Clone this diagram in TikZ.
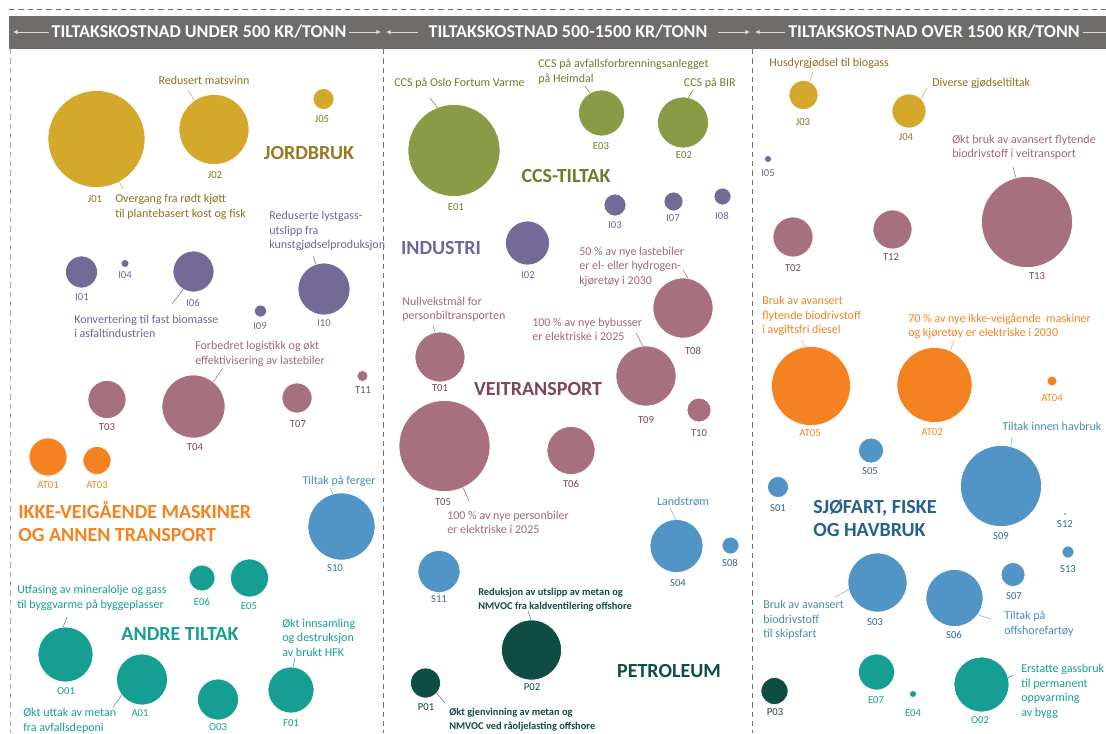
\documentclass[tikz,border=0pt]{standalone}
\usepackage{fontspec}
\setmainfont{Carlito}
\usetikzlibrary{arrows.meta}
\definecolor{hdrgray}{RGB}{110,108,107}
\definecolor{hdrline}{RGB}{218,218,218}
\definecolor{sepgray}{RGB}{112,112,112}
\definecolor{jfill}{RGB}{212,168,42}
\definecolor{jtext}{RGB}{143,111,31}
\definecolor{cfill}{RGB}{138,155,69}
\definecolor{ctext}{RGB}{107,125,44}
\definecolor{ifill}{RGB}{116,106,151}
\definecolor{itext}{RGB}{111,102,154}
\definecolor{tfill}{RGB}{166,112,127}
\definecolor{ttext}{RGB}{161,103,125}
\definecolor{tdark}{RGB}{126,68,90}
\definecolor{ofill}{RGB}{245,130,32}
\definecolor{sfill}{RGB}{81,148,198}
\definecolor{stext}{RGB}{72,138,190}
\definecolor{sdark}{RGB}{35,98,138}
\definecolor{afill}{RGB}{23,158,147}
\definecolor{pfill}{RGB}{14,76,68}

\begin{document}
\begin{tikzpicture}[x=0.75pt,y=0.75pt,yscale=-1,xscale=1,
    bub/.style={circle,draw=white,line width=0.5pt,inner sep=0pt,outer sep=0pt,minimum size=#1*1.5pt},
    idl/.style={font=\fontsize{8}{9.6}\selectfont,inner sep=0.75pt},
    desc/.style={font=\fontsize{9}{10.9}\selectfont,align=left,inner sep=0.75pt},
    pdesc/.style={font=\fontsize{7.8}{10.5}\selectfont\bfseries,align=left,inner sep=0.75pt,text=pfill},
    cat/.style={font=\fontsize{15}{17.5}\selectfont\bfseries,align=left,inner sep=0.75pt},
    hdr/.style={font=\fontsize{13.5}{16}\selectfont\bfseries,text=white,inner xsep=2pt,inner ysep=1pt},
    harr/.style={draw=hdrline,line width=0.6pt,-{Latex[length=3.5pt,width=3.5pt]}},
    sepline/.style={draw=sepgray,line width=0.6pt,dash pattern=on 4pt off 3pt},
    lead/.style={line width=0.4pt}]
\useasboundingbox (0,0) rectangle (1106,733);

% header band
\fill [hdrgray] (9,16) rectangle (1106,49);
\draw [sepline] (9,9) -- (1106,9);
\draw [sepline,draw=sepgray!60] (10,49) -- (10,733);
\draw [sepline] (383,49) -- (383,733);
\draw [sepline] (752,49) -- (752,733);
\node [hdr] (h1) at (199,32) {TILTAKSKOSTNAD UNDER 500 KR/TONN};
\node [hdr,inner xsep=8pt] (h2) at (568,32) {TILTAKSKOSTNAD 500-1500 KR/TONN};
\node [hdr] (h3) at (934,32) {TILTAKSKOSTNAD OVER 1500 KR/TONN};
\coordinate (h1l) at (13,32);
\coordinate (h1r) at (381,32);
\coordinate (h2l) at (386,32);
\coordinate (h2r) at (750,32);
\coordinate (h3l) at (755,32);
\coordinate (h3r) at (1106,32);
\draw [harr] (h1) -- (h1l);
\draw [harr] (h1) -- (h1r);
\draw [harr] (h2) -- (h2l);
\draw [harr] (h2) -- (h2r);
\draw [harr] (h3) -- (h3l);
\draw [draw=hdrline,line width=0.6pt] (h3) -- (h3r);

% Jordbruk
\node [bub=48.5,fill=jfill] (J01) at (96.5,139) {};
\node [bub=35,fill=jfill] (J02) at (214,129.5) {};
\node [bub=10.5,fill=jfill] (J05) at (323.5,99) {};
\node [bub=14.5,fill=jfill] (J03) at (803.5,95) {};
\node [bub=17,fill=jfill] (J04) at (909,111) {};
\node [idl,text=jtext] (J01l) at (95,199) {J01};
\node [idl,text=jtext] (J02l) at (215,175) {J02};
\node [idl,text=jtext] (J05l) at (322,119) {J05};
\node [idl,text=jtext] (J03l) at (803,122) {J03};
\node [idl,text=jtext] (J04l) at (906,137) {J04};
\node [desc,text=jtext] (J02t) at (204,80) {Redusert matsvinn};
\node [desc,text=jtext,anchor=west] (J01t) at (114,207) {Overgang fra rødt kjøtt\\til plantebasert kost og fisk};
\node [desc,text=jtext,anchor=west] (J03t) at (768,63) {Husdyrgjødsel til biogass};
\node [desc,text=jtext,anchor=west] (J04t) at (931,83) {Diverse gjødseltiltak};
\node [cat,text=jtext!85!jfill] (jord) at (309,153) {JORDBRUK};
\coordinate (J02e) at (188,90);
\coordinate (J01e) at (123,189);
\coordinate (J03e) at (813,72);
\coordinate (J04e) at (927,88);
\draw [lead,jfill] (J02.124) -- (J02e);
\draw [lead,jfill] (J01.298) -- (J01e);
\draw [lead,jfill] (J03.65) -- (J03e);
\draw [lead,jfill] (J04.45) -- (J04e);

% CCS
\node [bub=46,fill=cfill] (E01) at (454,150.5) {};
\node [bub=23,fill=cfill] (E03) at (601.5,113) {};
\node [bub=25.5,fill=cfill] (E02) at (683,122.5) {};
\node [idl,text=ctext] (E01l) at (456,207) {E01};
\node [idl,text=ctext] (E03l) at (601,146) {E03};
\node [idl,text=ctext] (E02l) at (684,155) {E02};
\node [desc,text=ctext,anchor=west] (E01t) at (393,83) {CCS på Oslo Fortum Varme};
\node [desc,text=ctext,anchor=west] (E03t) at (537,71.5) {CCS på avfallsforbrenningsanlegget\\på Heimdal};
\node [desc,text=ctext,anchor=east] (E02t) at (737,83) {CCS på BIR};
\node [cat,text=ctext] (ccs) at (566,176) {CCS-TILTAK};
\coordinate (E01e) at (430,98);
\coordinate (E03e) at (585,86);
\coordinate (E02e) at (693,90);
\draw [lead,ctext] (E01.111) -- (E01e);
\draw [lead,ctext] (E03.120) -- (E03e);
\draw [lead,ctext] (E02.78) -- (E02e);

% Industri
\node [bub=16,fill=ifill] (I01) at (81.5,272) {};
\node [bub=4,fill=ifill] (I04) at (125,263.5) {};
\node [bub=20.5,fill=ifill] (I06) at (193.5,271.5) {};
\node [bub=6,fill=ifill] (I09) at (260.5,311) {};
\node [bub=26,fill=ifill] (I10) at (324,289) {};
\node [bub=22,fill=ifill] (I02) at (527.5,243) {};
\node [bub=11,fill=ifill] (I03) at (615,205) {};
\node [bub=9.5,fill=ifill] (I07) at (673.5,201.5) {};
\node [bub=8.5,fill=ifill] (I08) at (722.5,196.5) {};
\node [bub=3.5,fill=ifill] (I05) at (768,159) {};
\node [idl,text=itext] (I01l) at (82,297) {I01};
\node [idl,text=itext] (I04l) at (125,275) {I04};
\node [idl,text=itext] (I06l) at (193,303) {I06};
\node [idl,text=itext] (I09l) at (260,326) {I09};
\node [idl,text=itext] (I10l) at (324,323) {I10};
\node [idl,text=itext] (I02l) at (528,275) {I02};
\node [idl,text=itext] (I03l) at (615,225) {I03};
\node [idl,text=itext] (I07l) at (673,218) {I07};
\node [idl,text=itext] (I08l) at (722,216) {I08};
\node [idl,text=itext] (I05l) at (768,173) {I05};
\node [desc,text=itext,anchor=west] (I10t) at (268,231) {Reduserte lystgass-\\utslipp fra\\kunstgjødselproduksjon};
\node [desc,text=itext,anchor=west] (I06t) at (73,326.5) {Konvertering til fast biomasse\\i asfaltindustrien};
\node [cat,text=itext] (ind) at (441,248) {INDUSTRI};
\coordinate (I10e) at (313,256);
\coordinate (I06e) at (172,304);
\draw [lead,itext] (I10.108) -- (I10e);
\draw [lead,itext] (I06.240) -- (I06e);

% Veitransport
\node [bub=19,fill=tfill] (T03) at (107,399.5) {};
\node [bub=31.5,fill=tfill] (T04) at (193.5,406.5) {};
\node [bub=15,fill=tfill] (T07) at (297,398) {};
\node [bub=5.5,fill=tfill] (T11) at (362.5,376) {};
\node [bub=25,fill=tfill] (T01) at (440,357) {};
\node [bub=45.5,fill=tfill] (T05) at (444.5,446) {};
\node [bub=24,fill=tfill] (T06) at (571,450.5) {};
\node [bub=30,fill=tfill] (T08) at (683,308) {};
\node [bub=30,fill=tfill] (T09) at (646,376) {};
\node [bub=12,fill=tfill] (T10) at (699,410) {};
\node [bub=20,fill=tfill] (T02) at (793,237) {};
\node [bub=19.5,fill=tfill] (T12) at (892.5,229.5) {};
\node [bub=45.5,fill=tfill] (T13) at (1027,222) {};
\node [idl,text=tdark] (T03l) at (107,427) {T03};
\node [idl,text=tdark] (T04l) at (195,447) {T04};
\node [idl,text=tdark] (T07l) at (298,424) {T07};
\node [idl,text=tdark] (T11l) at (363,390) {T11};
\node [idl,text=tdark] (T01l) at (440,388) {T01};
\node [idl,text=tdark] (T05l) at (443,502) {T05};
\node [idl,text=tdark] (T06l) at (571,484) {T06};
\node [idl,text=tdark] (T08l) at (693,351) {T08};
\node [idl,text=tdark] (T09l) at (646,420) {T09};
\node [idl,text=tdark] (T10l) at (699,433) {T10};
\node [idl,text=tdark] (T02l) at (793,268) {T02};
\node [idl,text=tdark] (T12l) at (891,257) {T12};
\node [idl,text=tdark] (T13l) at (1037,276) {T13};
\node [desc,text=ttext,anchor=west] (T04t) at (194,354) {Forbedret logistikk og økt\\effektivisering av lastebiler};
\node [desc,text=ttext,anchor=west] (T08t) at (578,266.5) {50 \% av nye lastebiler\\er el- eller hydrogen-\\kjøretøy i 2030};
\node [desc,text=ttext,anchor=west] (T01t) at (401,309) {Nullvekstmål for\\personbiltransporten};
\node [desc,text=ttext,anchor=west] (T09t) at (531,329.5) {100 \% av nye bybusser\\er elektriske i 2025};
\node [desc,text=ttext,anchor=west] (T05t) at (446,522.5) {100 \% av nye personbiler\\er elektriske i 2025};
\node [desc,text=ttext,anchor=west] (T13t) at (951,147.5) {Økt bruk av avansert flytende\\biodrivstoff i veitransport};
\node [cat,text=tdark] (vei) at (538,389) {VEITRANSPORT};
\coordinate (T04e) at (223,368);
\coordinate (T08e) at (683,270);
\coordinate (T01e) at (433,326);
\coordinate (T09e) at (636,333);
\coordinate (T05e) at (469,501);
\coordinate (T13e) at (1013,167);
\draw [lead,ttext] (T04.51) -- (T04e);
\draw [lead,ttext] (T08.80) -- (T08e);
\draw [lead,ttext] (T01.101) -- (T01e);
\draw [lead,ttext] (T09.96) -- (T09e);
\draw [lead,ttext] (T05.294) -- (T05e);
\draw [lead,ttext] (T13.104) -- (T13e);

% Ikke-veigaende maskiner og annen transport
\node [bub=19,fill=ofill] (AT01) at (48,457) {};
\node [bub=14,fill=ofill] (AT03) at (97,460.5) {};
\node [bub=39.5,fill=ofill] (AT05) at (811,386) {};
\node [bub=37.5,fill=ofill] (AT02) at (934.5,385) {};
\node [bub=5,fill=ofill] (AT04) at (1052,381) {};
\node [idl,text=ofill] (AT01l) at (48,485) {AT01};
\node [idl,text=ofill] (AT03l) at (97,485) {AT03};
\node [idl,text=ofill] (AT05l) at (810,433) {AT05};
\node [idl,text=ofill] (AT02l) at (932,432) {AT02};
\node [idl,text=ofill] (AT04l) at (1052,398) {AT04};
\node [desc,text=ofill,anchor=west] (AT05t) at (761,316) {Bruk av avansert\\flytende biodrivstoff\\i avgiftsfri diesel};
\node [desc,text=ofill,anchor=west] (AT02t) at (907,326.5) {70 \% av nye ikke-veigående~ maskiner\\og kjøretøy er elektriske i 2030};
\node [cat,text=ofill,anchor=west] (ikke) at (17,521.5) {IKKE-VEIGÅENDE MASKINER\\OG ANNEN TRANSPORT};
\coordinate (AT05e) at (802,340);
\coordinate (AT02e) at (954,340);
\draw [lead,ofill!70] (AT05.100) -- (AT05e);
\draw [lead,ofill!70] (AT02.65) -- (AT02e);

% Sjofart, fiske og havbruk
\node [bub=33.5,fill=sfill] (S10) at (341.5,526.5) {};
\node [bub=21,fill=sfill] (S11) at (439,571.5) {};
\node [bub=26.5,fill=sfill] (S04) at (676.5,546) {};
\node [bub=8.5,fill=sfill] (S08) at (730.5,545.5) {};
\node [bub=12.5,fill=sfill] (S05) at (871,450.5) {};
\node [bub=40.5,fill=sfill] (S09) at (1001,486) {};
\node [bub=10.5,fill=sfill] (S01) at (778,487) {};
\node [bub=1,fill=sfill,draw=none] (S12) at (1065,514) {};
\node [bub=6,fill=sfill] (S13) at (1068,552) {};
\node [bub=29.5,fill=sfill] (S03) at (877.5,582.5) {};
\node [bub=28.5,fill=sfill] (S06) at (954.5,598) {};
\node [bub=12,fill=sfill] (S07) at (1013,574.5) {};
\node [idl,text=sdark!80!sfill] (S10l) at (335,568) {S10};
\node [idl,text=sdark!80!sfill] (S11l) at (439,599) {S11};
\node [idl,text=sdark!80!sfill] (S04l) at (678,583) {S04};
\node [idl,text=sdark!80!sfill] (S08l) at (730,563) {S08};
\node [idl,text=sdark!80!sfill] (S05l) at (870,471) {S05};
\node [idl,text=sdark!80!sfill] (S09l) at (1001,536) {S09};
\node [idl,text=sdark!80!sfill] (S01l) at (778,508) {S01};
\node [idl,text=sdark!80!sfill] (S12l) at (1065,524) {S12};
\node [idl,text=sdark!80!sfill] (S13l) at (1068,569) {S13};
\node [idl,text=sdark!80!sfill] (S03l) at (875,622) {S03};
\node [idl,text=sdark!80!sfill] (S06l) at (954,635) {S06};
\node [idl,text=sdark!80!sfill] (S07l) at (1014,596) {S07};
\node [desc,text=stext] (S10t) at (339,481) {Tiltak på ferger};
\node [desc,text=stext] (S04t) at (683,502) {Landstrøm};
\node [desc,text=stext,anchor=west] (S09t) at (1001,426) {Tiltak innen havbruk};
\node [desc,text=stext,anchor=west] (S03t) at (762,620) {Bruk av avansert\\biodrivstoff\\til skipsfart};
\node [desc,text=stext,anchor=west] (S06t) at (1003,623.5) {Tiltak på\\offshorefartøy};
\node [cat,text=sdark,anchor=west] (sjo) at (812,518.5) {SJØFART, FISKE\\OG HAVBRUK};
\coordinate (S10e) at (330,488);
\coordinate (S04e) at (670,508);
\coordinate (S09e) at (1012,437);
\coordinate (S03e) at (835,597);
\coordinate (S06e) at (991,619);
\draw [lead,stext!70] (S10.105) -- (S10e);
\draw [lead,stext!70] (S04.91) -- (S04e);
\draw [lead,stext!70] (S09.76) -- (S09e);
\draw [lead,stext!70] (S03.194) -- (S03e);
\draw [lead,stext!70] (S06.324) -- (S06e);

% Andre tiltak
\node [bub=13,fill=afill] (E06) at (202,578) {};
\node [bub=19,fill=afill] (E05) at (249.5,578) {};
\node [bub=27.5,fill=afill] (O01) at (65.5,654.5) {};
\node [bub=25.5,fill=afill] (A01) at (142,679.5) {};
\node [bub=20.5,fill=afill] (O03) at (218,699.5) {};
\node [bub=23,fill=afill] (F01) at (291,690) {};
\node [bub=18,fill=afill] (E07) at (876.5,672) {};
\node [bub=3.5,fill=afill] (E04) at (913,694) {};
\node [bub=27.5,fill=afill] (O02) at (981.5,684.5) {};
\node [idl,text=afill] (E06l) at (202,602) {E06};
\node [idl,text=afill] (E05l) at (249,606) {E05};
\node [idl,text=afill] (O01l) at (66,691) {O01};
\node [idl,text=afill] (A01l) at (140,713) {A01};
\node [idl,text=afill] (O03l) at (218,727) {O03};
\node [idl,text=afill] (F01l) at (291,723) {F01};
\node [idl,text=afill] (E07l) at (876,700) {E07};
\node [idl,text=afill] (E04l) at (913,713) {E04};
\node [idl,text=afill] (O02l) at (980,720) {O02};
\node [desc,text=afill,anchor=west] (O01t) at (16,598) {Utfasing av mineralolje og gass\\til byggvarme på byggeplasser};
\node [desc,text=afill,anchor=west] (A01t) at (22,721) {Økt uttak av metan\\fra avfallsdeponi};
\node [desc,text=afill,anchor=west] (F01t) at (281,637.5) {Økt innsamling\\og destruksjon\\av brukt HFK};
\node [desc,text=afill,anchor=west] (O02t) at (1020,691.5) {Erstatte gassbruk\\til permanent\\oppvarming\\av bygg};
\node [cat,text=afill] (andre) at (180,634) {ANDRE TILTAK};
\coordinate (O01e) at (67,617);
\coordinate (A01e) at (113,707);
\coordinate (F01e) at (295,658);
\coordinate (O02e) at (1013,675);
\draw [lead,afill] (O01.95) -- (O01e);
\draw [lead,afill] (A01.218) -- (A01e);
\draw [lead,afill] (F01.85) -- (F01e);
\draw [lead,afill] (O02.14) -- (O02e);

% Petroleum
\node [bub=30,fill=pfill] (P02) at (531.5,650) {};
\node [bub=15,fill=pfill] (P01) at (425.5,683) {};
\node [bub=13.5,fill=pfill] (P03) at (774.5,691) {};
\node [idl,text=pfill] (P02l) at (532,687) {P02};
\node [idl,text=pfill] (P01l) at (426,707) {P01};
\node [idl,text=pfill] (P03l) at (775,712) {P03};
\node [pdesc,anchor=west] (P02t) at (477,600) {Reduksjon av utslipp av metan og\\NMVOC fra kaldventilering offshore};
\node [pdesc,anchor=west] (P01t) at (448,720) {Økt gjenvinning av metan og\\NMVOC ved råoljelasting offshore};
\node [cat,text=pfill] (petro) at (669,671) {PETROLEUM};
\coordinate (P02e) at (528,611);
\coordinate (P01e) at (445,703);
\draw [lead,pfill!70] (P02.91) -- (P02e);
\draw [lead,pfill!70] (P01.318) -- (P01e);
\end{tikzpicture}
\end{document}
